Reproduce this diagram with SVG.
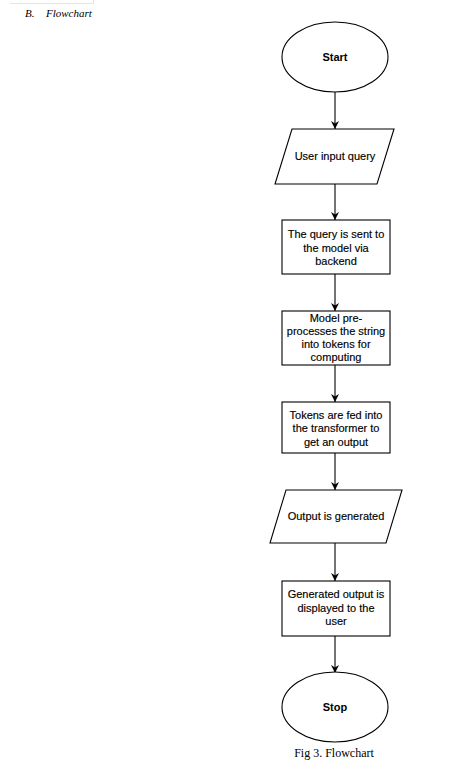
<svg xmlns="http://www.w3.org/2000/svg" width="466" height="775" viewBox="0 0 466 775">
<style>
.s{fill:#fff;stroke:#000;stroke-width:1.1}
.t{font-family:"Liberation Sans",Arial,sans-serif;font-size:11px;fill:#000;text-anchor:middle;stroke:#000;stroke-width:0.15}
.b{font-weight:bold;stroke-width:0}
.c{stroke:#000;stroke-width:1.1;fill:none}
.cap{font-family:"Liberation Serif","Times New Roman",serif;fill:#000}
</style>
<defs>
<marker id="ah" viewBox="0 0 10 10" refX="10" refY="5" markerWidth="8" markerHeight="8" markerUnits="userSpaceOnUse" orient="auto">
<path d="M0,0 L10,5 L0,10 L3,5 Z" fill="#000"/>
</marker>
</defs>
<rect width="466" height="775" fill="#fff"/>
<polyline points="10,3.5 93.5,3.5 93.5,0" fill="none" stroke="#e4e4e4" stroke-width="1"/>
<text class="cap" x="25" y="17" font-size="11" font-style="italic">B.<tspan x="46">Flowchart</tspan></text>
<g id="connectors">
<line class="c" x1="335" y1="92" x2="335" y2="129" marker-end="url(#ah)"/>
<line class="c" x1="335" y1="184" x2="335" y2="220" marker-end="url(#ah)"/>
<line class="c" x1="335" y1="274" x2="335" y2="311" marker-end="url(#ah)"/>
<line class="c" x1="335" y1="365" x2="335" y2="402" marker-end="url(#ah)"/>
<line class="c" x1="335" y1="453" x2="335" y2="490" marker-end="url(#ah)"/>
<line class="c" x1="335" y1="543" x2="335" y2="581" marker-end="url(#ah)"/>
<line class="c" x1="335" y1="636" x2="335" y2="673" marker-end="url(#ah)"/>
</g>
<g id="start">
<ellipse class="s" cx="335" cy="57" rx="53" ry="35"/>
<text class="t b" x="335" y="61">Start</text>
</g>
<g id="input">
<polygon class="s" points="292,129 394,129 377,184 275,184"/>
<text class="t" x="335" y="160">User input query</text>
</g>
<g id="send">
<rect class="s" x="282" y="220" width="108" height="54"/>
<text class="t" x="336" y="238">The query is sent to<tspan x="336" dy="13.5">the model via</tspan><tspan x="336" dy="13.5">backend</tspan></text>
</g>
<g id="preprocess">
<rect class="s" x="282" y="311" width="108" height="54"/>
<text class="t" x="336" y="321.5">Model pre-<tspan x="336" dy="13">processes the string</tspan><tspan x="336" dy="13">into tokens for</tspan><tspan x="336" dy="13">computing</tspan></text>
</g>
<g id="transformer">
<rect class="s" x="282" y="402" width="108" height="51"/>
<text class="t" x="336" y="418.5">Tokens are fed into<tspan x="336" dy="13.5">the transformer to</tspan><tspan x="336" dy="13.5">get an output</tspan></text>
</g>
<g id="output">
<polygon class="s" points="286,490 402,490 386,543 270,543"/>
<text class="t" x="336" y="520">Output is generated</text>
</g>
<g id="display">
<rect class="s" x="282" y="581" width="108" height="55"/>
<text class="t" x="336" y="598">Generated output is<tspan x="336" dy="13.5">displayed to the</tspan><tspan x="336" dy="13.5">user</tspan></text>
</g>
<g id="stop">
<ellipse class="s" cx="335" cy="707" rx="53" ry="35"/>
<text class="t b" x="335" y="711">Stop</text>
</g>
<text class="cap" x="334" y="757" font-size="12" text-anchor="middle">Fig 3. Flowchart</text>
</svg>
